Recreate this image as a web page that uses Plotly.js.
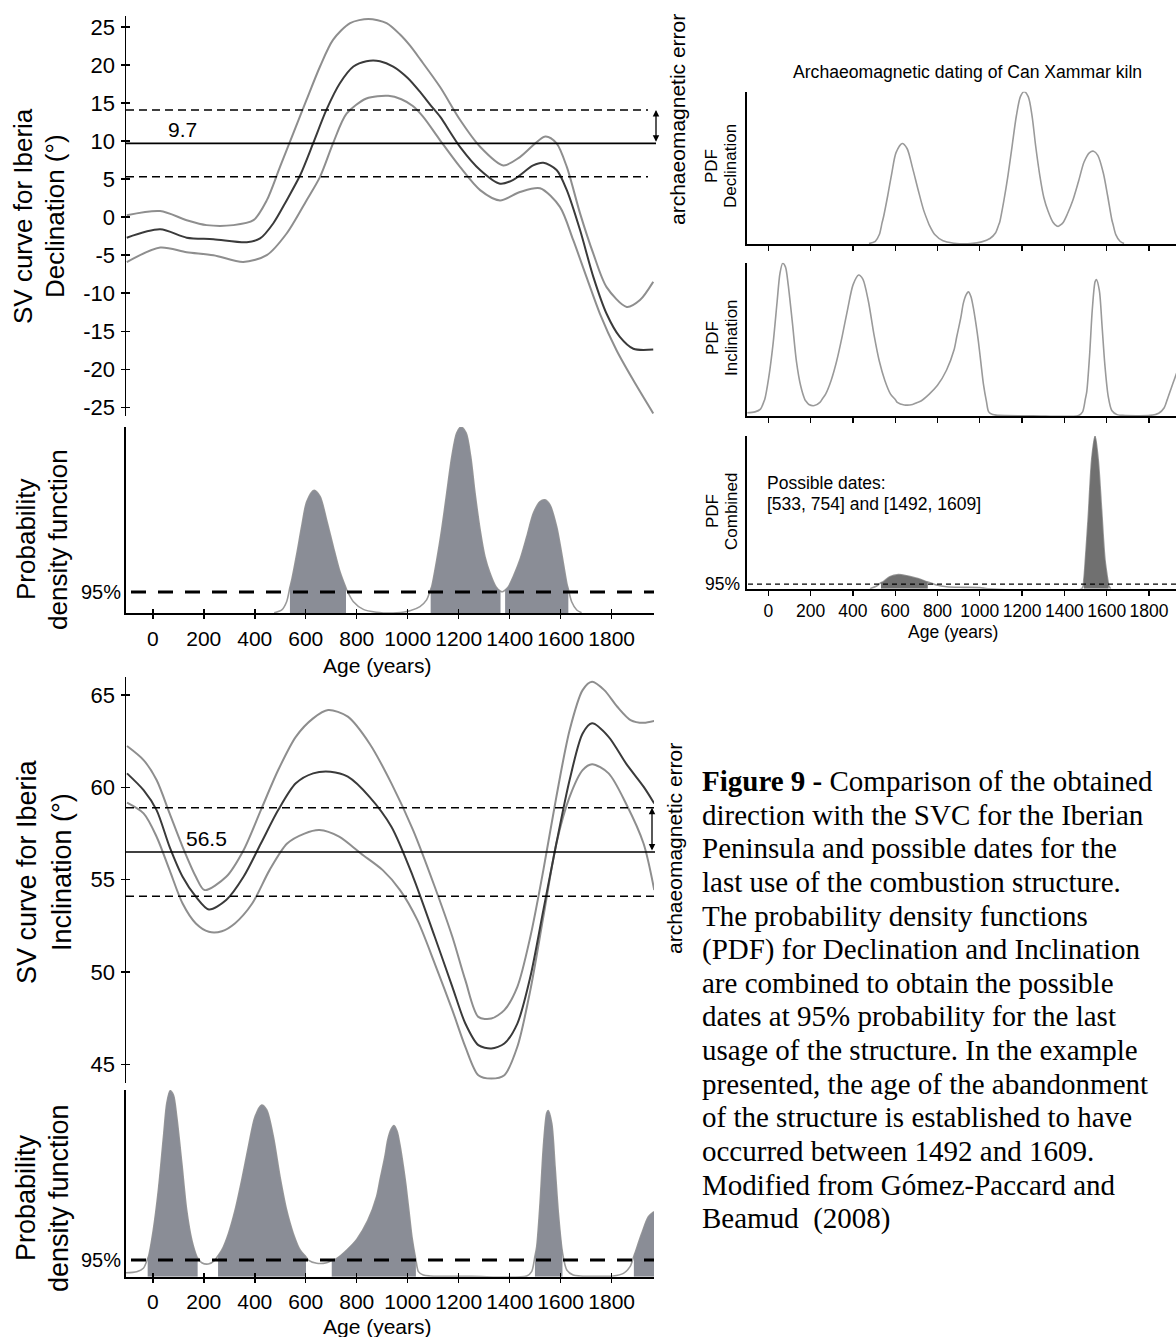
<!DOCTYPE html>
<html><head><meta charset="utf-8">
<script src="https://cdn.plot.ly/plotly-3.0.1.min.js"></script>
<style>body{margin:0;background:#fff}#chart{width:1176px;height:1337px}</style>
</head><body><div id="chart"></div>
<script>
// ---------------- DATA ----------------
const ageTicks = [0,200,400,600,800,1000,1200,1400,1600,1800];
const decTicks = [-25,-20,-15,-10,-5,0,5,10,15,20,25];
const incTicks = [45,50,55,60,65];

// Declination SV curve (Iberia): mean and 95% envelopes
const decUpperAge = [-102,29,133,211,316,395,447,499,551,603,656,707,774,846,917,970,1010,1050,1127,1205,1284,1375,1440,1540,1584,1624,1676,1728,1780,1859,1911,1963];
const decUpperVal = [0.26,0.8,-0.4,-1.05,-1.05,-0.4,2.2,6.6,11.0,15.4,19.8,23.3,25.5,26.05,25.5,24.0,22.5,20.7,17.1,12.8,9.25,6.8,7.9,10.6,9.7,6.6,0.5,-4.8,-9.2,-11.8,-10.9,-8.5];
const decMeanAge = [-102,29,133,238,369,421,473,525,578,629,681,734,787,838,891,943,1000,1050,1090,1127,1205,1284,1362,1414,1492,1532,1584,1624,1676,1728,1780,1832,1885,1963];
const decMeanVal = [-2.7,-1.6,-2.7,-2.9,-3.3,-2.8,-0.8,2.2,5.5,9.7,14.1,17.6,19.8,20.5,20.5,19.8,18.3,16.4,14.7,13.2,9.25,6.2,4.4,4.9,6.8,7.15,6.2,3.55,-1.7,-7.85,-12.7,-15.75,-17.3,-17.4];
const decLowerAge = [-102,29,133,238,355,447,525,603,656,707,760,838,924,975,1020,1060,1127,1205,1284,1362,1440,1519,1597,1649,1701,1754,1819,1885,1963];
const decLowerVal = [-5.9,-4.0,-4.6,-5.0,-5.9,-5.0,-2.15,2.2,5.3,9.7,13.6,15.6,15.95,15.5,14.6,13.2,10.1,6.6,3.55,2.2,3.3,3.8,1.35,-3.0,-7.85,-12.7,-17.5,-21.45,-25.8];
const decObs = 9.7, decErr = 4.4;

// Inclination SV curve (Iberia)
const incUpperAge = [-101,-36,15,66,117,169,203,288,356,424,492,561,629,688,765,850,936,1021,1106,1175,1226,1277,1328,1379,1430,1481,1532,1583,1635,1686,1723,1771,1822,1874,1925,1967];
const incUpperVal = [62.24,61.48,60.4,58.59,56.78,55.16,54.44,55.16,56.6,58.77,60.94,62.74,63.74,64.19,63.83,62.38,60.22,57.69,54.62,51.91,49.56,47.57,47.48,47.94,49.2,51.91,55.52,59.49,63.1,65.27,65.72,65.27,64.37,63.65,63.5,63.6];
const incMeanAge = [-101,-36,15,66,117,169,220,288,356,424,492,561,629,697,765,850,936,1021,1106,1175,1226,1277,1328,1379,1430,1481,1532,1583,1635,1686,1723,1788,1856,1925,1967];
const incMeanVal = [60.76,59.85,58.77,56.78,55.16,54.08,53.39,53.9,55.16,56.96,58.77,60.22,60.76,60.85,60.58,59.49,57.87,55.16,51.91,49.2,47.21,46.04,45.86,46.13,47.21,49.74,53.35,56.96,60.4,62.92,63.47,62.74,61.3,60.04,59.13];
const incLowerAge = [-101,-36,15,66,117,169,220,271,322,390,458,527,595,654,731,816,902,970,1038,1106,1175,1226,1277,1328,1379,1430,1481,1532,1583,1635,1686,1723,1788,1856,1925,1967];
const incLowerVal = [59.17,58.59,57.33,55.52,53.71,52.63,52.18,52.21,52.63,53.71,55.52,56.96,57.5,57.69,57.33,56.42,55.52,54.44,52.81,50.46,47.94,45.95,44.41,44.23,44.41,45.95,49.02,52.99,56.96,59.49,60.94,61.26,60.76,59.13,56.96,54.44];
const incObs = 56.5, incErr = 2.4;

// Probability density functions (relative to maximum)
const decPdfAge = [476,506,525,538,545,565,584,604,633,656,682,708,734,758,761,787,826,878,904,957,1009,1048,1074,1090,1094,1114,1133,1153,1173,1192,1209,1229,1247,1264,1284,1303,1323,1346,1364,1372,1382,1395,1414,1440,1467,1493,1519,1538,1558,1584,1604,1624,1630,1643,1663,1682];
const decPdfVal = [0.003,0.018,0.062,0.14,0.179,0.32,0.466,0.6,0.66,0.627,0.5,0.358,0.224,0.135,0.125,0.062,0.021,0.005,0.002,0.003,0.014,0.036,0.072,0.128,0.143,0.287,0.448,0.645,0.842,0.968,1.0,0.968,0.842,0.645,0.448,0.304,0.215,0.143,0.118,0.116,0.125,0.143,0.197,0.287,0.412,0.538,0.6,0.609,0.582,0.466,0.32,0.161,0.13,0.062,0.018,0.003];
const decPdf95 = 0.115;
const decIntervals = [[538,758],[1090,1364],[1382,1630]];

const incPdfAge = [-105,-63,-37,-20,-17,2,22,42,55,68,81,94,114,133,153,173,176,192,218,244,256,271,297,323,349,375,401,427,447,473,499,525,551,578,601,610,643,682,702,722,761,800,843,878,891,910,922,935,946,958,969,983,993,1005,1017,1032,1042,1061,1087,1250,1467,1486,1499,1506,1519,1532,1545,1551,1565,1578,1591,1607,1624,1649,1676,1806,1846,1872,1887,1891,1918,1944,1966];
const incPdfVal = [0.021,0.027,0.045,0.097,0.107,0.25,0.464,0.75,0.929,0.996,0.973,0.857,0.607,0.357,0.197,0.107,0.1,0.075,0.068,0.089,0.113,0.143,0.232,0.357,0.518,0.696,0.857,0.92,0.893,0.75,0.536,0.357,0.232,0.143,0.106,0.089,0.072,0.075,0.087,0.098,0.143,0.2,0.3,0.43,0.517,0.64,0.735,0.79,0.81,0.78,0.71,0.59,0.49,0.35,0.21,0.09,0.027,0.009,0.004,0.002,0.004,0.027,0.11,0.161,0.393,0.696,0.875,0.89,0.821,0.589,0.339,0.13,0.036,0.009,0.004,0.004,0.018,0.054,0.11,0.125,0.232,0.321,0.348];
const incPdf95 = 0.089;
const incIntervals = [[-20,176],[256,601],[702,1032],[1499,1607],[1887,1966]];

const combPdfAge = [481,512,533,544,575,615,654,702,749,754,796,843,922,1001,1040,1482,1492,1497,1513,1529,1545,1560,1576,1592,1608,1609,1619];
const combPdfVal = [0.0,0.018,0.04,0.046,0.079,0.092,0.085,0.068,0.046,0.044,0.024,0.013,0.009,0.007,0.0,0.0,0.06,0.144,0.472,0.843,1.0,0.843,0.515,0.188,0.03,0.02,0.0];
const combPdf95 = 0.03;
const combIntervals = [[533,754],[1492,1609]];

const captionLines = [
  "<b>Figure 9 -</b> Comparison of the obtained",
  "direction with the SVC for the Iberian",
  "Peninsula and possible dates for the",
  "last use of the combustion structure.",
  "The probability density functions",
  "(PDF) for Declination and Inclination",
  "are combined to obtain the possible",
  "dates at 95% probability for the last",
  "usage of the structure. In the example",
  "presented, the age of the abandonment",
  "of the structure is established to have",
  "occurred between 1492 and 1609.",
  "Modified from Gómez-Paccard and",
  "Beamud  (2008)"
];

// ---------------- BUILD ----------------
const W = 1176, H = 1337;
const fx = p => p / W, fy = p => 1 - p / H;
const SANS = "Liberation Sans, Arial, sans-serif";
const SERIF = "Liberation Serif, Times New Roman, serif";
const ENV = '#8e8e8e', MEAN = '#3a3a3a', PDFLINE = '#9a9a9a', FILL = '#8a8d96', FILL2 = '#707070';

function seg(xs, ys, a, b) {
  const sx = [], sy = [];
  for (let i = 0; i < xs.length; i++) if (xs[i] >= a && xs[i] <= b) { sx.push(xs[i]); sy.push(ys[i]); }
  return {sx, sy};
}
function line(x, y, xa, ya, color, width) {
  return {x, y, xaxis: xa, yaxis: ya, type: 'scatter', mode: 'lines', line: {color, width, shape: 'spline', smoothing: 0.8}, hoverinfo: 'skip'};
}
function fills(xs, ys, ints, xa, ya, color) {
  return ints.map(([a, b]) => {
    const s = seg(xs, ys, a, b);
    return {x: s.sx, y: s.sy, xaxis: xa, yaxis: ya, type: 'scatter', mode: 'lines', fill: 'tozeroy', fillcolor: color, line: {width: 0, shape: 'spline', smoothing: 0.8, color: color}, hoverinfo: 'skip'};
  });
}

const traces = [
  line(decUpperAge, decUpperVal, 'x', 'y', ENV, 2),
  line(decLowerAge, decLowerVal, 'x', 'y', ENV, 2),
  line(decMeanAge, decMeanVal, 'x', 'y', MEAN, 2),
  line(incUpperAge, incUpperVal, 'x3', 'y3', ENV, 2),
  line(incLowerAge, incLowerVal, 'x3', 'y3', ENV, 2),
  line(incMeanAge, incMeanVal, 'x3', 'y3', MEAN, 2),
  line(decPdfAge, decPdfVal, 'x2', 'y2', PDFLINE, 1.6),
  ...fills(decPdfAge, decPdfVal, decIntervals, 'x2', 'y2', FILL),
  line(incPdfAge, incPdfVal, 'x4', 'y4', PDFLINE, 1.6),
  ...fills(incPdfAge, incPdfVal, incIntervals, 'x4', 'y4', FILL),
  line(decPdfAge, decPdfVal, 'x5', 'y5', PDFLINE, 1.6),
  line(incPdfAge, incPdfVal, 'x6', 'y6', PDFLINE, 1.6),
  line(combPdfAge, combPdfVal, 'x7', 'y7', PDFLINE, 1.6),
  ...fills(combPdfAge, combPdfVal, combIntervals, 'x7', 'y7', FILL2),
  // empty traces so the overlay axes (crossing ticks) are drawn
  {x: [], y: [], xaxis: 'x', yaxis: 'y8', type: 'scatter'},
  {x: [], y: [], xaxis: 'x3', yaxis: 'y9', type: 'scatter'},
  {x: [], y: [], xaxis: 'x8', yaxis: 'y2', type: 'scatter'},
  {x: [], y: [], xaxis: 'x9', yaxis: 'y4', type: 'scatter'}
];

const base = {showgrid: false, zeroline: false, fixedrange: true, color: '#000', linecolor: '#000'};
const leftX = [fx(126), fx(654)], leftRange = [-105, 1966];
const rightX = [fx(747.3), 1], rightRange = [-99.3, 1927.7];
// declination axis: 25 at 27px, -25 at 407.3px
const decDom = [fy(416), fy(16)], decRange = [-26.14, 26.44];
// inclination axis: 65 at 695px, 45 at 1064.3px
const incDom = [fy(1082.8), fy(677)], incRange = [44.0, 65.98];
const tf = s => ({size: s, family: SANS, color: '#000'});
const plain = v => String(v);

const layout = {
  width: W, height: H, margin: {l: 0, r: 0, t: 0, b: 0}, autosize: false,
  paper_bgcolor: '#fff', plot_bgcolor: 'rgba(0,0,0,0)', showlegend: false,
  font: {family: SANS, color: '#000'},
  xaxis: {...base, domain: leftX, range: leftRange, visible: false, anchor: 'y'},
  yaxis: {...base, domain: decDom, range: decRange, anchor: 'x', tickvals: decTicks, ticktext: decTicks.map(plain), ticks: 'outside', ticklen: 4, tickwidth: 1.5, showline: true, linewidth: 1.5, tickfont: tf(22), ticklabelstandoff: 1},
  yaxis8: {...base, domain: decDom, range: decRange, overlaying: 'y', anchor: 'x', tickvals: decTicks, ticks: 'inside', ticklen: 4, tickwidth: 1.5, showticklabels: false},
  xaxis2: {...base, domain: leftX, range: leftRange, anchor: 'y2', tickvals: ageTicks, ticktext: ageTicks.map(plain), ticks: 'outside', ticklen: 4, tickwidth: 1.5, showline: true, linewidth: 2, tickfont: tf(21), ticklabelstandoff: 1},
  xaxis8: {...base, domain: leftX, range: leftRange, anchor: 'y2', overlaying: 'x2', tickvals: ageTicks, ticks: 'inside', ticklen: 4, tickwidth: 1.5, showticklabels: false},
  yaxis2: {...base, domain: [fy(613.3), fy(427)], range: [0, 1], anchor: 'x2', showline: true, linewidth: 2, showticklabels: false, ticks: ''},
  xaxis3: {...base, domain: leftX, range: leftRange, visible: false, anchor: 'y3'},
  yaxis3: {...base, domain: incDom, range: incRange, anchor: 'x3', tickvals: incTicks, ticktext: incTicks.map(plain), ticks: 'outside', ticklen: 4, tickwidth: 1.5, showline: true, linewidth: 1.5, tickfont: tf(22), ticklabelstandoff: 1},
  yaxis9: {...base, domain: incDom, range: incRange, overlaying: 'y3', anchor: 'x3', tickvals: incTicks, ticks: 'inside', ticklen: 4, tickwidth: 1.5, showticklabels: false},
  xaxis4: {...base, domain: leftX, range: leftRange, anchor: 'y4', tickvals: ageTicks, ticktext: ageTicks.map(plain), ticks: 'outside', ticklen: 4, tickwidth: 1.5, showline: true, linewidth: 2, tickfont: tf(21), ticklabelstandoff: 1},
  xaxis9: {...base, domain: leftX, range: leftRange, anchor: 'y4', overlaying: 'x4', tickvals: ageTicks, ticks: 'inside', ticklen: 4, tickwidth: 1.5, showticklabels: false},
  yaxis4: {...base, domain: [fy(1276.7), fy(1090)], range: [0, 1], anchor: 'x4', showline: true, linewidth: 2, showticklabels: false, ticks: ''},
  xaxis5: {...base, domain: rightX, range: rightRange, anchor: 'y5', tickvals: ageTicks, ticks: 'outside', ticklen: 5, tickwidth: 1.2, showline: true, linewidth: 2, showticklabels: false},
  yaxis5: {...base, domain: [fy(244), fy(91.7)], range: [0, 1], anchor: 'x5', showline: true, linewidth: 2, showticklabels: false, ticks: ''},
  xaxis6: {...base, domain: rightX, range: rightRange, anchor: 'y6', tickvals: ageTicks, ticks: 'outside', ticklen: 5, tickwidth: 1.2, showline: true, linewidth: 2, showticklabels: false},
  yaxis6: {...base, domain: [fy(416), fy(262.7)], range: [0, 1], anchor: 'x6', showline: true, linewidth: 2, showticklabels: false, ticks: ''},
  xaxis7: {...base, domain: rightX, range: rightRange, anchor: 'y7', tickvals: ageTicks, ticktext: ageTicks.map(plain), ticks: 'outside', ticklen: 5, tickwidth: 1.2, showline: true, linewidth: 2, tickfont: tf(17.5), ticklabelstandoff: 0},
  yaxis7: {...base, domain: [fy(588.7), fy(436)], range: [0, 1], anchor: 'x7', showline: true, linewidth: 2, showticklabels: false, ticks: ''},
  shapes: [
    {type: 'line', xref: 'paper', yref: 'y', x0: fx(126), x1: fx(648), y0: decObs + decErr, y1: decObs + decErr, line: {color: '#000', width: 1.5, dash: '8px,5px'}},
    {type: 'line', xref: 'paper', yref: 'y', x0: fx(126), x1: fx(648), y0: decObs - decErr, y1: decObs - decErr, line: {color: '#000', width: 1.5, dash: '8px,5px'}},
    {type: 'line', xref: 'paper', yref: 'y', x0: fx(126), x1: fx(656), y0: decObs, y1: decObs, line: {color: '#000', width: 1.6}},
    {type: 'line', xref: 'paper', yref: 'y3', x0: fx(126), x1: fx(655), y0: incObs + incErr, y1: incObs + incErr, line: {color: '#000', width: 1.5, dash: '8px,5px'}},
    {type: 'line', xref: 'paper', yref: 'y3', x0: fx(126), x1: fx(655), y0: incObs - incErr, y1: incObs - incErr, line: {color: '#000', width: 1.5, dash: '8px,5px'}},
    {type: 'line', xref: 'paper', yref: 'y3', x0: fx(126), x1: fx(655), y0: incObs, y1: incObs, line: {color: '#000', width: 1.6}},
    {type: 'line', xref: 'paper', yref: 'y2', x0: fx(131), x1: fx(654), y0: decPdf95, y1: decPdf95, line: {color: '#000', width: 3, dash: '15px,12px'}},
    {type: 'line', xref: 'paper', yref: 'y4', x0: fx(131), x1: fx(654), y0: incPdf95, y1: incPdf95, line: {color: '#000', width: 3, dash: '15px,12px'}},
    {type: 'line', xref: 'paper', yref: 'y7', x0: fx(748), x1: 1, y0: combPdf95, y1: combPdf95, line: {color: '#000', width: 1.2, dash: '5px,4px'}}
  ],
  annotations: []
};

function txt(text, x, y, size, opts) {
  return Object.assign({text, xref: 'paper', yref: 'paper', x: fx(x), y: fy(y), showarrow: false,
    font: {size, family: SANS, color: '#000'}, xanchor: 'center', yanchor: 'middle'}, opts || {});
}
const A = layout.annotations;
// top-left declination
A.push(txt('SV curve for Iberia', 23, 216, 26, {textangle: -90}));
A.push(txt('Declination (°)', 55, 216, 26, {textangle: -90}));
A.push(Object.assign(txt(String(decObs), 182, 0, 21), {yref: 'y', y: decObs, yanchor: 'bottom', yshift: 0}));
A.push(txt('archaeomagnetic error', 677, 120, 21, {textangle: -90}));
A.push({xref: 'paper', yref: 'y', x: fx(656), y: decObs + decErr, axref: 'pixel', ax: 0, ayref: 'y', ay: decObs,
  showarrow: true, arrowhead: 2, arrowside: 'end+start', arrowsize: 1, arrowwidth: 1.3, arrowcolor: '#000', standoff: 0, startstandoff: 0, text: ''});
// declination PDF
A.push(txt('Probability', 26, 540, 26, {textangle: -90}));
A.push(txt('density function', 58, 540, 26, {textangle: -90}));
A.push(Object.assign(txt('95%', 123, 0, 20, {xanchor: 'right'}), {yref: 'y2', y: decPdf95}));
A.push(txt('Age (years)', 377, 665, 21));
// inclination
A.push(txt('SV curve for Iberia', 27, 872, 27, {textangle: -90}));
A.push(txt('Inclination (°)', 62, 872, 27, {textangle: -90}));
A.push(Object.assign(txt(String(incObs), 206, 0, 21), {yref: 'y3', y: incObs, yanchor: 'bottom', yshift: 0}));
A.push(txt('archaeomagnetic error', 674, 849, 21, {textangle: -90}));
A.push({xref: 'paper', yref: 'y3', x: fx(652), y: incObs + incErr, axref: 'pixel', ax: 0, ayref: 'y3', ay: incObs,
  showarrow: true, arrowhead: 2, arrowside: 'end+start', arrowsize: 1, arrowwidth: 1.3, arrowcolor: '#000', standoff: 0, startstandoff: 0, text: ''});
A.push(txt('Probability', 26, 1198, 27, {textangle: -90}));
A.push(txt('density function', 59, 1198, 27, {textangle: -90}));
A.push(Object.assign(txt('95%', 123, 0, 20, {xanchor: 'right'}), {yref: 'y4', y: incPdf95}));
A.push(txt('Age (years)', 377, 1326, 21));
// right column
A.push(txt('Archaeomagnetic dating of Can Xammar kiln', 967, 72, 17.6));
A.push(txt('PDF', 712, 166, 17, {textangle: -90}));
A.push(txt('Declination', 731, 166, 17, {textangle: -90}));
A.push(txt('PDF', 712, 338, 17, {textangle: -90}));
A.push(txt('Inclination', 731, 338, 17, {textangle: -90}));
A.push(txt('PDF', 712, 511, 17, {textangle: -90}));
A.push(txt('Combined', 731, 511, 17, {textangle: -90}));
A.push(Object.assign(txt('95%', 742, 0, 17.5, {xanchor: 'right'}), {yref: 'y7', y: combPdf95}));
A.push(txt('Possible dates:', 765, 483, 17.5, {xanchor: 'left'}));
A.push(txt('[' + combIntervals[0].join(', ') + '] and [' + combIntervals[1].join(', ') + ']', 765, 504, 17.5, {xanchor: 'left'}));
A.push(txt('Age (years)', 953, 632, 17.5));
// caption
captionLines.forEach((t, i) => {
  A.push(txt(t, 700, 781 + i * 33.64, 29, {xanchor: 'left', font: {size: 29, family: SERIF, color: '#000'}}));
});

Plotly.newPlot('chart', traces, layout, {staticPlot: true, displayModeBar: false});
</script></body></html>
